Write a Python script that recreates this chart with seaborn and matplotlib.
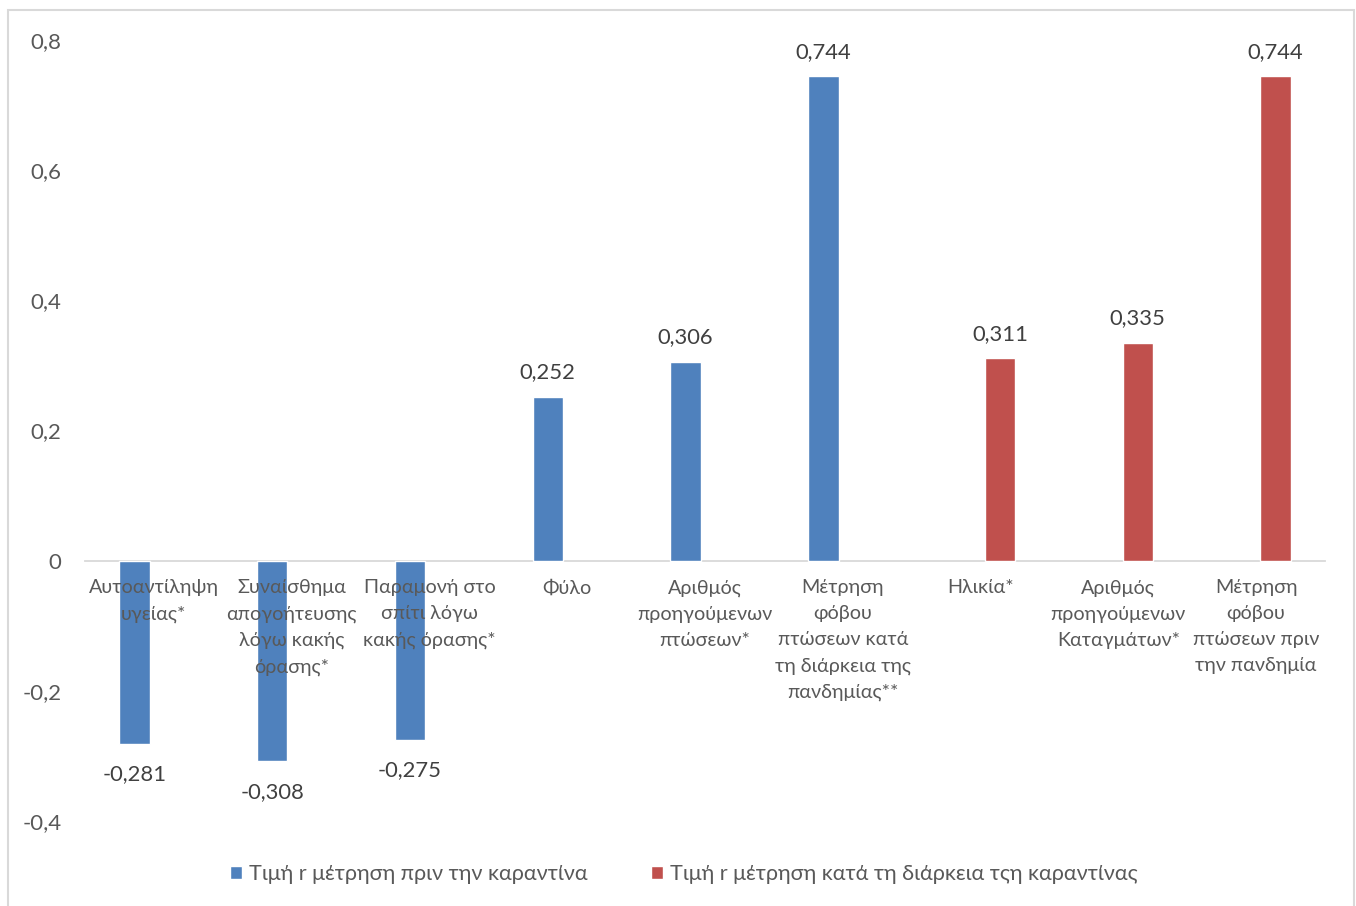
import matplotlib
matplotlib.use("Agg")
import matplotlib.pyplot as plt
import seaborn as sns
import pandas as pd
import numpy as np
from matplotlib.patches import Patch

categories = [
    "Αυτοαντίληψη\nυγείας*",
    "Συναίσθημα\nαπογοήτευσης\nλόγω κακής\nόρασης*",
    "Παραμονή στο\nσπίτι λόγω\nκακής όρασης*",
    "Φύλο",
    "Αριθμός\nπροηγούμενων\nπτώσεων*",
    "Μέτρηση\nφόβου\nπτώσεων κατά\nτη διάρκεια της\nπανδημίας**",
    "Ηλικία*",
    "Αριθμός\nπροηγούμενων\nΚαταγμάτων*",
    "Μέτρηση\nφόβου\nπτώσεων πριν\nτην πανδημία",
]
series_names = ["Τιμή r μέτρηση πριν την καραντίνα",
                "Τιμή r μέτρηση κατά τη διάρκεια τςη καραντίνας"]
before_vals = [-0.281, -0.308, -0.275, 0.252, 0.306, 0.744, np.nan, np.nan, np.nan]
during_vals = [np.nan, np.nan, np.nan, np.nan, np.nan, np.nan, 0.311, 0.335, 0.744]
yticks = [-0.4, -0.2, 0.0, 0.2, 0.4, 0.6, 0.8]
ytick_labels = ["-0,4", "-0,2", "0", "0,2", "0,4", "0,6", "0,8"]

colors = ["#4F81BD", "#C0504D"]

rows = []
for c, v in zip(categories, before_vals):
    if not np.isnan(v):
        rows.append({"cat": c, "series": series_names[0], "value": v})
for c, v in zip(categories, during_vals):
    if not np.isnan(v):
        rows.append({"cat": c, "series": series_names[1], "value": v})
df = pd.DataFrame(rows)

sns.set_theme(style="white")
plt.rcParams["font.family"] = ["Lato", "DejaVu Sans"]

W, H = 1356, 906
fig = plt.figure(figsize=(W / 100, H / 100), dpi=100)
ax = fig.add_axes([85 / W, 1 - 821 / H, (1325 - 85) / W, (821 - 40) / H])

sns.barplot(data=df, x="cat", y="value", hue="series", order=categories,
            hue_order=series_names, palette=colors, width=0.564, gap=0.22,
            dodge=True, ax=ax, legend=False, saturation=1, errorbar=None)

ax.set_axisbelow(False)
ax.set_ylim(-0.4, 0.8)
ax.set_xlim(-0.5, len(categories) - 0.5)
ax.set_yticks(yticks)
ax.set_yticklabels(ytick_labels)
ax.set_xlabel("")
ax.set_ylabel("")
for s in ["top", "right", "left"]:
    ax.spines[s].set_visible(False)
ax.spines["bottom"].set_position(("data", 0))
ax.spines["bottom"].set_color("#D9D9D9")
ax.spines["bottom"].set_linewidth(1.3)
ax.spines["bottom"].set_zorder(0.5)
ax.tick_params(axis="x", length=0, colors="#595959", labelsize=14.2, pad=13.5)
ax.tick_params(axis="y", length=0, colors="#595959", labelsize=16, pad=17)
for lbl in ax.get_xticklabels():
    lbl.set_linespacing(1.64)
    lbl.set_multialignment("center")
ax.xaxis.set_zorder(3)

fmt = lambda v: f"{v:.3f}".replace(".", ",")
for cont in ax.containers:
    vals = cont.datavalues
    pos_labels = [fmt(v) if v >= 0 else "" for v in vals]
    neg_labels = [fmt(v) if v < 0 else "" for v in vals]
    ax.bar_label(cont, labels=pos_labels, padding=10.5, fontsize=15.8, color="#404040")
    ax.bar_label(cont, labels=neg_labels, padding=15, fontsize=15.8, color="#404040")

handles = [Patch(facecolor=colors[0]), Patch(facecolor=colors[1])]
fig.legend(handles, series_names, loc="center", bbox_to_anchor=(684 / W, 1 - 874 / H),
           ncol=2, frameon=False, fontsize=15.6, handlelength=0.55, handleheight=0.55,
           handletextpad=0.35, columnspacing=2.9, labelcolor="#595959")

# outer chart border
border = plt.Rectangle((8 / W, -0.05), (1354 - 8) / W, 1.05 - 10 / H,
                       transform=fig.transFigure, fill=False,
                       edgecolor="#D9D9D9", linewidth=1.5)
fig.patches.append(border)

fig.savefig("out.png", dpi=100)
